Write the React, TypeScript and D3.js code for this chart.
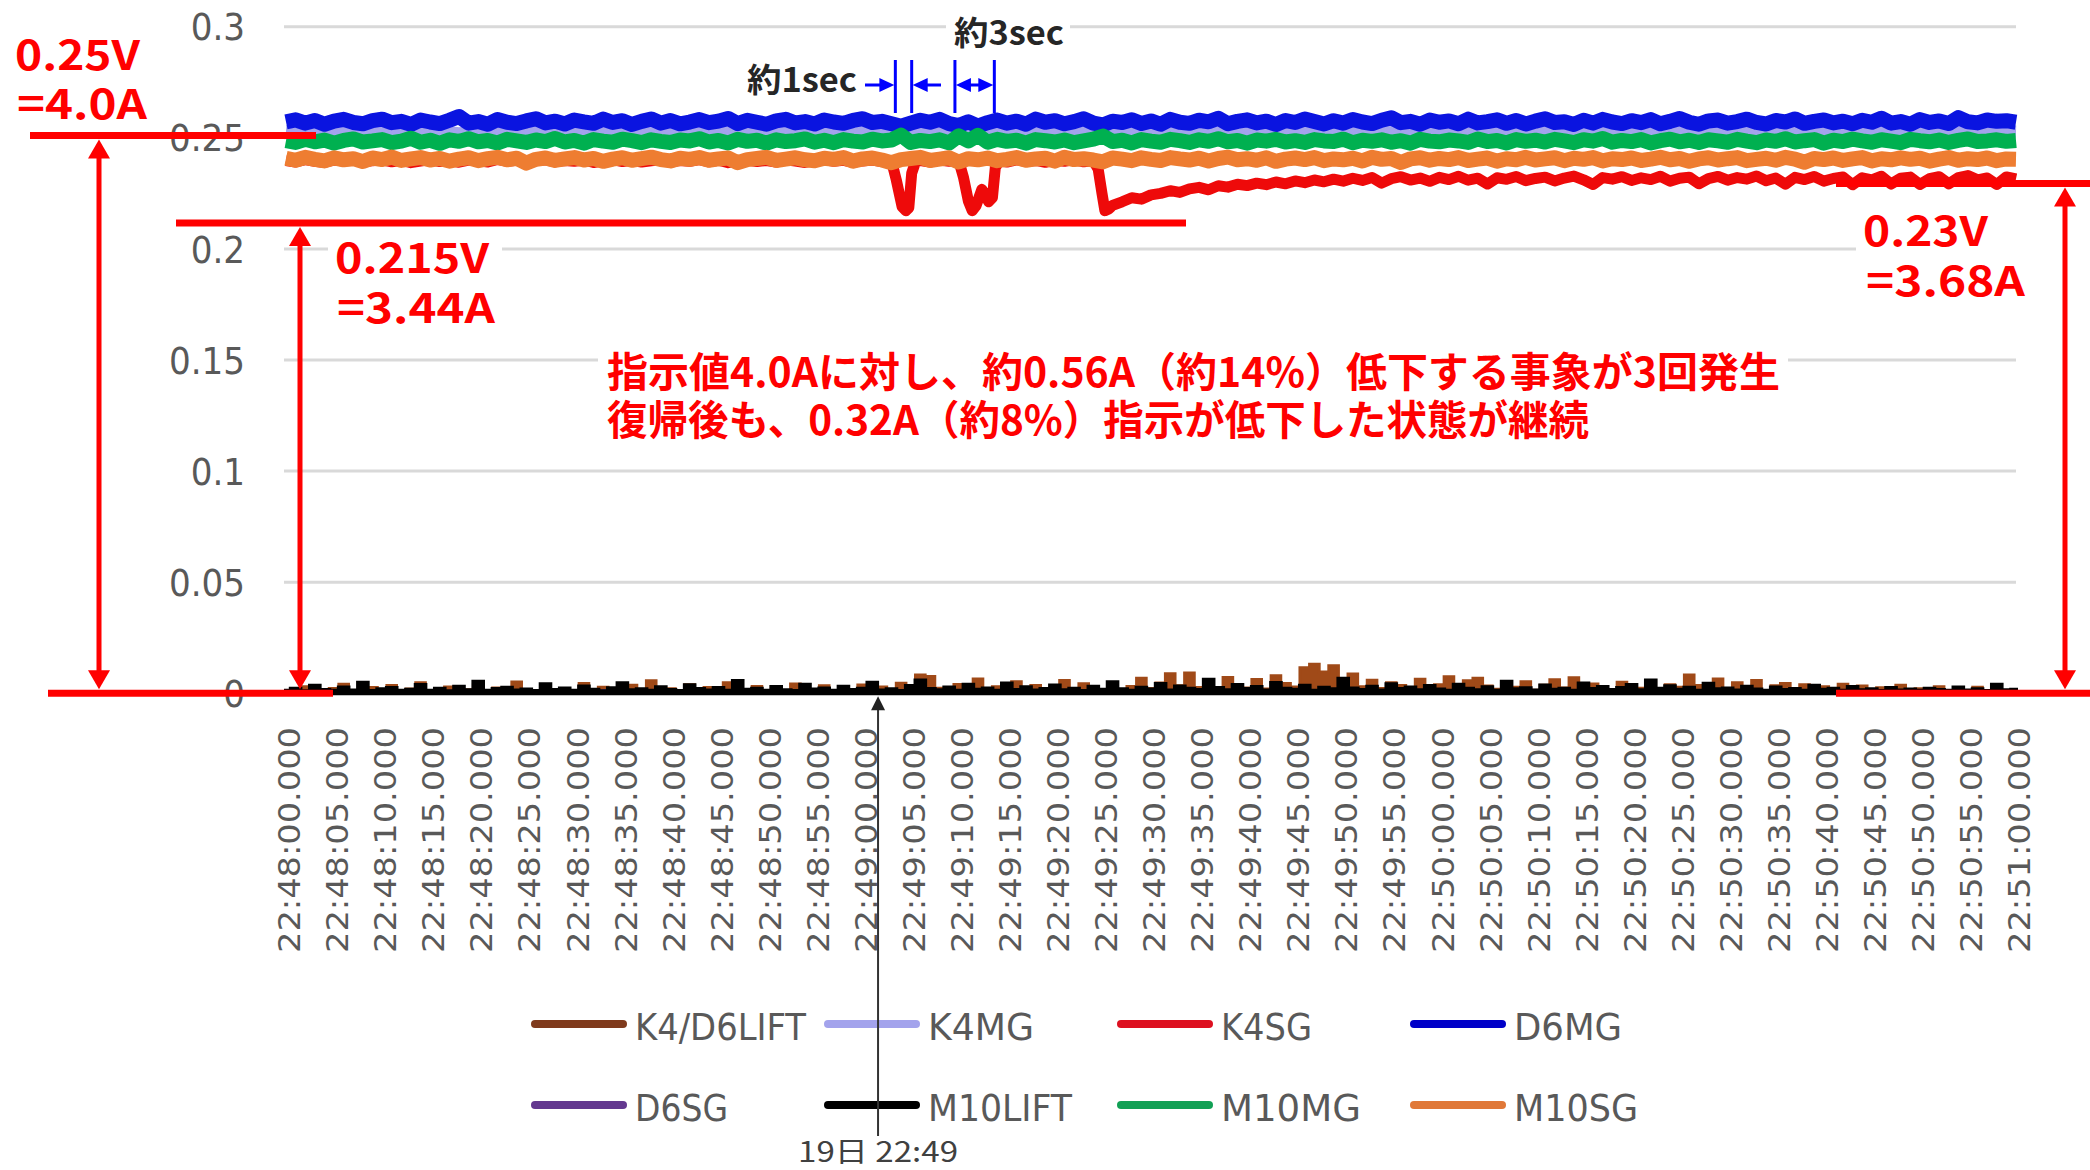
import React, { useEffect } from 'react';
import * as d3 from 'd3';

// ---------- DATA ----------
// time axis: seconds after 22:48:00
const timeTickLabels = [
  '22:48:00.000','22:48:05.000','22:48:10.000','22:48:15.000','22:48:20.000','22:48:25.000',
  '22:48:30.000','22:48:35.000','22:48:40.000','22:48:45.000','22:48:50.000','22:48:55.000',
  '22:49:00.000','22:49:05.000','22:49:10.000','22:49:15.000','22:49:20.000','22:49:25.000',
  '22:49:30.000','22:49:35.000','22:49:40.000','22:49:45.000','22:49:50.000','22:49:55.000',
  '22:50:00.000','22:50:05.000','22:50:10.000','22:50:15.000','22:50:20.000','22:50:25.000',
  '22:50:30.000','22:50:35.000','22:50:40.000','22:50:45.000','22:50:50.000','22:50:55.000',
  '22:51:00.000'
];
const TICK_STEP_SEC = 5;
const yTickValues = [0, 0.05, 0.1, 0.15, 0.2, 0.25, 0.3];
const yTickLabels = ['0', '0.05', '0.1', '0.15', '0.2', '0.25', '0.3'];

const seriesNames = ['K4/D6LIFT', 'K4MG', 'K4SG', 'D6MG', 'D6SG', 'M10LIFT', 'M10MG', 'M10SG'];
const seriesColors = ['#A04A18', '#A3A3EC', '#EE0A0A', '#0A14E0', '#6B3FA0', '#000000', '#00B050', '#EE7D31'];
const legendColors = ['#7F3A1C', '#A3A3EC', '#DD1020', '#0000C8', '#63388F', '#000000', '#12A055', '#E07838'];

// 1-second samples
const d6mg = [
  0.2572,0.2581,0.2566,0.2578,0.2561,0.2575,0.2583,0.2569,0.2563,0.2577,
  0.2584,0.2568,0.2574,0.2560,0.2580,0.2571,0.2564,0.2579,0.2596,0.2566,
  0.2573,0.2561,0.2582,0.2570,0.2564,0.2576,0.2586,0.2567,0.2575,0.2562,
  0.2580,0.2572,0.2565,0.2584,0.2569,0.2577,0.2560,0.2574,0.2585,0.2566,
  0.2578,0.2563,0.2571,0.2582,0.2568,0.2575,0.2587,0.2564,0.2579,0.2570,
  0.2561,0.2576,0.2583,0.2567,0.2573,0.2562,0.2580,0.2571,0.2565,0.2578,
  0.2586,0.2569,0.2574,0.2563,0.2552,0.2566,0.2579,0.2570,0.2583,0.2564,
  0.2555,0.2572,0.2553,0.2568,0.2580,0.2566,0.2575,0.2561,0.2584,0.2570,
  0.2577,0.2563,0.2573,0.2586,0.2566,0.2558,0.2575,0.2569,0.2581,0.2564,
  0.2576,0.2561,0.2583,0.2570,0.2565,0.2579,0.2572,0.2588,0.2563,0.2574,
  0.2581,0.2567,0.2575,0.2560,0.2578,0.2569,0.2585,0.2573,0.2562,0.2577,
  0.2566,0.2582,0.2571,0.2564,0.2579,0.2590,0.2568,0.2574,0.2561,0.2580,
  0.2570,0.2576,0.2563,0.2584,0.2567,0.2573,0.2581,0.2565,0.2578,0.2562,
  0.2575,0.2586,0.2569,0.2572,0.2560,0.2579,0.2566,0.2583,0.2571,0.2564,
  0.2577,0.2568,0.2582,0.2563,0.2574,0.2587,0.2570,0.2561,0.2576,0.2580,
  0.2566,0.2573,0.2584,0.2569,0.2562,0.2578,0.2571,0.2585,0.2565,0.2574,
  0.2580,0.2567,0.2575,0.2563,0.2579,0.2570,0.2588,0.2566,0.2573,0.2561,
  0.2582,0.2569,0.2576,0.2564,0.2591,0.2572,0.2567,0.2580,0.2574,0.2577,
  0.2570
];
const m10mg = [
  0.2487,0.2479,0.2493,0.2482,0.2490,0.2476,0.2488,0.2495,0.2481,0.2486,
  0.2492,0.2478,0.2485,0.2498,0.2480,0.2489,0.2475,0.2491,0.2484,0.2496,
  0.2482,0.2488,0.2477,0.2493,0.2486,0.2479,0.2490,0.2483,0.2497,0.2481,
  0.2488,0.2476,0.2492,0.2485,0.2480,0.2494,0.2487,0.2478,0.2491,0.2484,
  0.2479,0.2490,0.2486,0.2496,0.2481,0.2488,0.2477,0.2493,0.2484,0.2489,
  0.2476,0.2491,0.2483,0.2487,0.2495,0.2480,0.2489,0.2478,0.2492,0.2485,
  0.2481,0.2494,0.2486,0.2490,0.2512,0.2479,0.2488,0.2483,0.2491,0.2477,
  0.2509,0.2486,0.2511,0.2480,0.2493,0.2484,0.2489,0.2476,0.2492,0.2487,
  0.2481,0.2490,0.2478,0.2486,0.2494,0.2508,0.2483,0.2489,0.2477,0.2492,
  0.2485,0.2480,0.2493,0.2487,0.2479,0.2491,0.2484,0.2496,0.2482,0.2488,
  0.2476,0.2490,0.2485,0.2493,0.2481,0.2487,0.2479,0.2492,0.2486,0.2483,
  0.2494,0.2478,0.2489,0.2484,0.2491,0.2480,0.2487,0.2476,0.2493,0.2485,
  0.2482,0.2490,0.2486,0.2479,0.2495,0.2483,0.2488,0.2477,0.2492,0.2484,
  0.2489,0.2481,0.2493,0.2486,0.2478,0.2491,0.2485,0.2497,0.2480,0.2488,
  0.2483,0.2492,0.2477,0.2487,0.2494,0.2482,0.2489,0.2479,0.2491,0.2486,
  0.2480,0.2493,0.2485,0.2478,0.2490,0.2484,0.2496,0.2481,0.2487,0.2492,
  0.2476,0.2489,0.2483,0.2494,0.2486,0.2480,0.2491,0.2485,0.2478,0.2493,
  0.2487,0.2482,0.2490,0.2479,0.2488,0.2495,0.2483,0.2486,0.2491,0.2484,
  0.2488
];
const m10sg = [
  0.2408,0.2399,0.2412,0.2403,0.2396,0.2410,0.2401,0.2406,0.2393,0.2409,
  0.2402,0.2413,0.2398,0.2405,0.2411,0.2400,0.2407,0.2395,0.2404,0.2410,
  0.2397,0.2406,0.2412,0.2401,0.2408,0.2386,0.2403,0.2409,0.2398,0.2405,
  0.2411,0.2400,0.2407,0.2394,0.2404,0.2410,0.2399,0.2406,0.2413,0.2402,
  0.2396,0.2408,0.2403,0.2411,0.2399,0.2405,0.2409,0.2388,0.2402,0.2407,
  0.2412,0.2398,0.2404,0.2410,0.2401,0.2397,0.2408,0.2403,0.2411,0.2395,
  0.2405,0.2409,0.2400,0.2388,0.2402,0.2407,0.2412,0.2398,0.2404,0.2410,
  0.2391,0.2406,0.2401,0.2409,0.2397,0.2403,0.2411,0.2399,0.2405,0.2408,
  0.2395,0.2412,0.2402,0.2406,0.2400,0.2392,0.2409,0.2404,0.2397,0.2410,
  0.2403,0.2398,0.2411,0.2405,0.2400,0.2408,0.2396,0.2407,0.2413,0.2401,
  0.2406,0.2399,0.2410,0.2394,0.2404,0.2409,0.2402,0.2411,0.2397,0.2405,
  0.2401,0.2408,0.2396,0.2412,0.2403,0.2407,0.2389,0.2405,0.2410,0.2399,
  0.2407,0.2402,0.2411,0.2398,0.2404,0.2409,0.2395,0.2406,0.2401,0.2412,
  0.2400,0.2405,0.2410,0.2397,0.2408,0.2403,0.2411,0.2396,0.2406,0.2402,
  0.2409,0.2398,0.2404,0.2412,0.2401,0.2407,0.2394,0.2405,0.2410,0.2400,
  0.2406,0.2411,0.2397,0.2403,0.2408,0.2399,0.2412,0.2404,0.2390,0.2407,
  0.2402,0.2409,0.2398,0.2405,0.2411,0.2396,0.2406,0.2401,0.2410,0.2403,
  0.2408,0.2395,0.2404,0.2411,0.2399,0.2406,0.2402,0.2409,0.2397,0.2405,
  0.2404
];
const m10lift = [
  0.0012,0.0021,0.0009,0.0034,0.0015,0.0011,0.0026,0.0013,0.0048,0.0010,
  0.0018,0.0024,0.0011,0.0016,0.0037,0.0012,0.0020,0.0009,0.0029,0.0014,
  0.0052,0.0011,0.0019,0.0025,0.0013,0.0017,0.0010,0.0041,0.0015,0.0022,
  0.0012,0.0031,0.0016,0.0009,0.0023,0.0045,0.0014,0.0018,0.0011,0.0027,
  0.0015,0.0010,0.0036,0.0019,0.0013,0.0024,0.0011,0.0055,0.0016,0.0020,
  0.0012,0.0028,0.0014,0.0010,0.0039,0.0017,0.0022,0.0011,0.0030,0.0015,
  0.0021,0.0047,0.0013,0.0018,0.0010,0.0033,0.0058,0.0019,0.0014,0.0026,
  0.0011,0.0038,0.0016,0.0022,0.0012,0.0044,0.0015,0.0027,0.0013,0.0019,
  0.0035,0.0014,0.0021,0.0010,0.0029,0.0016,0.0050,0.0018,0.0012,0.0025,
  0.0017,0.0042,0.0013,0.0031,0.0020,0.0015,0.0061,0.0024,0.0014,0.0037,
  0.0019,0.0028,0.0013,0.0046,0.0021,0.0016,0.0034,0.0012,0.0025,0.0018,
  0.0066,0.0022,0.0015,0.0030,0.0013,0.0041,0.0019,0.0026,0.0014,0.0033,
  0.0017,0.0011,0.0039,0.0020,0.0014,0.0027,0.0012,0.0052,0.0018,0.0023,
  0.0013,0.0035,0.0016,0.0021,0.0011,0.0044,0.0019,0.0028,0.0015,0.0024,
  0.0037,0.0014,0.0058,0.0020,0.0032,0.0016,0.0025,0.0012,0.0043,0.0018,
  0.0022,0.0013,0.0030,0.0017,0.0011,0.0026,0.0015,0.0019,0.0012,0.0034,
  0.0016,0.0021,0.0011,0.0028,0.0014,0.0018,0.0010,0.0024,0.0013,0.0017,
  0.0012,0.0020,0.0015,0.0011,0.0026,0.0013,0.0018,0.0010,0.0038,0.0014,
  0.0016
];
const k4d6lift = [
  0.0008,0.0014,0.0030,0.0010,0.0007,0.0022,0.0041,0.0012,0.0009,0.0026,
  0.0011,0.0035,0.0008,0.0019,0.0047,0.0013,0.0010,0.0028,0.0009,0.0016,
  0.0038,0.0010,0.0024,0.0012,0.0051,0.0015,0.0008,0.0033,0.0011,0.0020,
  0.0009,0.0044,0.0013,0.0027,0.0010,0.0018,0.0036,0.0008,0.0056,0.0014,
  0.0021,0.0010,0.0039,0.0012,0.0026,0.0009,0.0048,0.0015,0.0011,0.0031,
  0.0013,0.0025,0.0009,0.0042,0.0016,0.0010,0.0034,0.0012,0.0020,0.0008,
  0.0037,0.0014,0.0028,0.0011,0.0045,0.0019,0.0082,0.0076,0.0023,0.0013,
  0.0040,0.0012,0.0064,0.0018,0.0030,0.0011,0.0052,0.0016,0.0035,0.0010,
  0.0027,0.0058,0.0014,0.0043,0.0021,0.0012,0.0049,0.0017,0.0031,0.0068,
  0.0022,0.0046,0.0088,0.0034,0.0091,0.0026,0.0055,0.0015,0.0071,0.0038,
  0.0024,0.0062,0.0019,0.0079,0.0044,0.0028,0.0115,0.0131,0.0096,0.0124,
  0.0041,0.0087,0.0030,0.0059,0.0022,0.0048,0.0035,0.0017,0.0063,0.0026,
  0.0039,0.0074,0.0021,0.0056,0.0068,0.0033,0.0018,0.0045,0.0027,0.0052,
  0.0014,0.0036,0.0061,0.0024,0.0070,0.0019,0.0042,0.0029,0.0012,0.0050,
  0.0031,0.0023,0.0057,0.0016,0.0038,0.0027,0.0082,0.0035,0.0021,0.0064,
  0.0018,0.0047,0.0026,0.0058,0.0013,0.0034,0.0044,0.0020,0.0039,0.0015,
  0.0029,0.0012,0.0041,0.0022,0.0033,0.0011,0.0025,0.0017,0.0036,0.0010,
  0.0021,0.0014,0.0030,0.0009,0.0019,0.0012,0.0027,0.0010,0.0016,0.0008,
  0.0011
];
// 2-second samples
const k4mg = [
  0.2531,0.2524,0.2529,0.2535,0.2522,0.2528,0.2533,0.2525,0.2530,0.2521,
  0.2527,0.2534,0.2523,0.2529,0.2532,0.2526,0.2520,0.2531,0.2528,0.2524,
  0.2535,0.2527,0.2522,0.2530,0.2533,0.2525,0.2529,0.2521,0.2532,0.2526,
  0.2528,0.2534,0.2523,0.2530,0.2525,0.2531,0.2527,0.2522,0.2533,0.2529,
  0.2524,0.2530,0.2535,0.2526,0.2521,0.2528,0.2532,0.2525,0.2529,0.2534,
  0.2523,0.2527,0.2531,0.2522,0.2530,0.2526,0.2533,0.2528,0.2524,0.2531,
  0.2527,0.2520,0.2532,0.2529,0.2525,0.2534,0.2523,0.2530,0.2528,0.2526,
  0.2533,0.2522,0.2529,0.2531,0.2525,0.2527,0.2535,0.2524,0.2530,0.2528,
  0.2521,0.2532,0.2526,0.2529,0.2534,0.2523,0.2530,0.2527,0.2525,0.2531,
  0.2528
];
const d6sg = [
  0.0009,0.0006,0.0011,0.0007,0.0010,0.0005,0.0008,0.0012,0.0006,0.0009,
  0.0007,0.0011,0.0005,0.0008,0.0010,0.0006,0.0009,0.0013,0.0007,0.0008,
  0.0010,0.0005,0.0009,0.0007,0.0011,0.0006,0.0008,0.0010,0.0012,0.0007,
  0.0009,0.0006,0.0011,0.0008,0.0005,0.0010,0.0007,0.0009,0.0012,0.0006,
  0.0008,0.0011,0.0007,0.0010,0.0005,0.0009,0.0013,0.0006,0.0008,0.0010,
  0.0007,0.0011,0.0006,0.0009,0.0008,0.0012,0.0005,0.0010,0.0007,0.0009,
  0.0011,0.0006,0.0008,0.0010,0.0007,0.0012,0.0009,0.0005,0.0011,0.0008,
  0.0006,0.0010,0.0009,0.0007,0.0012,0.0008,0.0005,0.0010,0.0007,0.0009,
  0.0011,0.0006,0.0008,0.0010,0.0007,0.0009,0.0012,0.0006,0.0008,0.0010,
  0.0007
];
// K4SG: irregular sample times (denser during the three drops)
const k4sgTimes = [
  0,1,2,3,4,5,6,7,8,9,10,11,12,13,14,15,16,17,18,19,20,21,22,23,24,25,26,27,28,29,
  30,31,32,33,34,35,36,37,38,39,40,41,42,43,44,45,46,47,48,49,50,51,52,53,54,55,56,57,58,59,
  60,61,62,63,63.5,64.1,64.5,64.8,65.1,65.5,66,67,68,69,70,
  70.5,71,71.4,71.8,72.4,72.8,73.1,73.5,73.8,74.2,75,76,77,78,79,80,81,82,83,84,
  84.5,84.9,85.2,85.6,86,87,88,89,90,91,92,93,94,95,96,97,98,99,100,
  101,102,103,104,105,106,107,108,109,110,111,112,113,114,115,116,117,118,119,120,
  121,122,123,124,125,126,127,128,129,130,131,132,133,134,135,136,137,138,139,140,
  141,142,143,144,145,146,147,148,149,150,151,152,153,154,155,156,157,158,159,160,
  161,162,163,164,165,166,167,168,169,170,171,172,173,174,175,176,177,178,179,180
];
const k4sgValues = [
  0.2398,0.2391,0.2402,0.2394,0.2389,0.2400,0.2396,0.2403,0.2390,0.2397,
  0.2401,0.2392,0.2399,0.2388,0.2395,0.2402,0.2393,0.2398,0.2390,0.2400,
  0.2396,0.2391,0.2403,0.2394,0.2399,0.2387,0.2397,0.2401,0.2392,0.2398,
  0.2394,0.2400,0.2389,0.2396,0.2402,0.2393,0.2399,0.2391,0.2397,0.2401,
  0.2390,0.2398,0.2394,0.2402,0.2392,0.2399,0.2388,0.2396,0.2400,0.2393,
  0.2398,0.2391,0.2401,0.2395,0.2389,0.2397,0.2402,0.2394,0.2399,0.2390,
  0.2396,0.2400,0.2393,0.2396,0.2310,0.2190,0.2172,0.2185,0.2340,0.2392,0.2398,0.2391,0.2400,0.2394,0.2397,
  0.2320,0.2215,0.2172,0.2195,0.2268,0.2240,0.2212,0.2230,0.2365,0.2396,0.2391,0.2401,0.2393,0.2398,0.2390,0.2399,0.2394,0.2402,0.2392,0.2397,
  0.2360,0.2250,0.2172,0.2180,0.2196,0.2212,0.2230,0.2224,0.2243,0.2250,0.2262,0.2254,0.2270,0.2277,0.2266,0.2284,0.2278,0.2291,0.2285,
  0.2296,0.2289,0.2301,0.2293,0.2306,0.2298,0.2310,0.2302,0.2314,0.2305,0.2318,0.2308,0.2321,0.2296,0.2316,0.2325,0.2310,0.2319,0.2304,0.2322,
  0.2312,0.2327,0.2309,0.2318,0.2292,0.2320,0.2313,0.2326,0.2307,0.2317,0.2323,0.2306,0.2319,0.2328,0.2311,0.2290,0.2321,0.2314,0.2325,0.2308,
  0.2320,0.2312,0.2327,0.2305,0.2318,0.2323,0.2293,0.2316,0.2326,0.2309,0.2321,0.2314,0.2328,0.2307,0.2319,0.2291,0.2322,0.2312,0.2326,0.2305,
  0.2317,0.2324,0.2289,0.2320,0.2311,0.2327,0.2292,0.2318,0.2323,0.2290,0.2316,0.2325,0.2293,0.2321,0.2330,0.2311,0.2319,0.2290,0.2324,0.2315
];

// annotation values (volts / seconds)
const refLevelTop = 0.251;     // 0.25V = 4.0A
const refLevelDrop = 0.2117;   // 0.215V = 3.44A
const refLevelAfter = 0.2294;  // 0.23V = 3.68A
const oneSecMarks = [63.4, 65.1];
const threeSecMarks = [69.6, 73.7];
const markerTime = 61.6;       // 19日 22:49

// ---------- LAYOUT ----------
const W = 2090, H = 1170;
const xScale = d3.scaleLinear().domain([0, 180]).range([286, 2016]);
const yScale = d3.scaleLinear().domain([0, 0.3]).range([693.3, 26.7]);

type Pt = [number, number];
const withStep = (vals: number[], step: number): Pt[] => vals.map((v, i) => [i * step, v]);
const lineGen = d3.line<Pt>().x(d => xScale(d[0])).y(d => yScale(d[1]));
const stepArea = d3.area<Pt>().x(d => xScale(d[0])).y0(yScale(0)).y1(d => yScale(d[1])).curve(d3.curveStep);

const seriesData: { pts: Pt[]; width: number; floor: boolean }[] = [
  { pts: withStep(k4d6lift, 1), width: 3, floor: true },
  { pts: withStep(k4mg, 2), width: 12, floor: false },
  { pts: k4sgTimes.map((t, i) => [t, k4sgValues[i]] as Pt), width: 11, floor: false },
  { pts: withStep(d6mg, 1), width: 15, floor: false },
  { pts: withStep(d6sg, 2), width: 3, floor: true },
  { pts: withStep(m10lift, 1), width: 4, floor: true },
  { pts: withStep(m10mg, 1), width: 15, floor: false },
  { pts: withStep(m10sg, 1), width: 15, floor: false },
];

const legendLabelWidths = [171, 106, 91, 108, 93, 144, 140, 124];

const RED = '#FF0000';
const BLUE = '#0000FF';
const JP = "'Noto Sans CJK JP', 'Noto Sans', sans-serif";
const COND = "'DejaVu Sans Condensed', 'Liberation Sans Narrow', 'DejaVu Sans', sans-serif";

function tri(tipX: number, tipY: number, dir: 'up' | 'down' | 'left' | 'right', len: number, half: number) {
  if (dir === 'up') return `M${tipX},${tipY}L${tipX - half},${tipY + len}L${tipX + half},${tipY + len}Z`;
  if (dir === 'down') return `M${tipX},${tipY}L${tipX - half},${tipY - len}L${tipX + half},${tipY - len}Z`;
  if (dir === 'left') return `M${tipX},${tipY}L${tipX + len},${tipY - half}L${tipX + len},${tipY + half}Z`;
  return `M${tipX},${tipY}L${tipX - len},${tipY - half}L${tipX - len},${tipY + half}Z`;
}

function RedDoubleArrow({ x, yTop, yBottom }: { x: number; yTop: number; yBottom: number }) {
  return (
    <g>
      <line x1={x} x2={x} y1={yTop + 10} y2={yBottom - 10} stroke={RED} strokeWidth={5} />
      <path d={tri(x, yTop, 'up', 19, 11)} fill={RED} />
      <path d={tri(x, yBottom, 'down', 19, 11)} fill={RED} />
    </g>
  );
}

export default function App() {
  useEffect(() => {
    document.body.style.margin = '0';
    document.body.style.background = '#ffffff';
  }, []);

  const y0 = yScale(0);
  const yTopLvl = yScale(refLevelTop);
  const yDropLvl = yScale(refLevelDrop);
  const yAfterLvl = yScale(refLevelAfter);
  const blueTop = 60, blueBottom = 113, blueArrowY = 85;
  const xm = xScale(markerTime);

  return (
    <div style={{ position: 'absolute', left: 0, top: 0, width: W, height: H, background: '#fff' }}>
      <svg width={W} height={H} style={{ display: 'block' }}>
        <rect x={0} y={0} width={W} height={H} fill="#ffffff" />
        {/* gridlines */}
        {yTickValues.map((v, i) => (
          <line key={'g' + i} x1={284} x2={2016} y1={yScale(v)} y2={yScale(v)}
            stroke={v === 0 ? '#bfbfbf' : '#d9d9d9'} strokeWidth={3} />
        ))}
        {/* y tick labels */}
        {yTickValues.map((v, i) => (
          <text key={'yl' + i} x={245} y={yScale(v)} dy="0.36em" textAnchor="end"
            fontFamily={COND} fontSize={38} fill="#595959">{yTickLabels[i]}</text>
        ))}
        {/* x tick labels */}
        {timeTickLabels.map((lab, i) => {
          const x = xScale(i * TICK_STEP_SEC) + 3;
          return (
            <text key={'xl' + i} transform={`translate(${x},727) rotate(-90)`} textAnchor="end"
              dy="0.36em" fontFamily="'DejaVu Sans', sans-serif" fontSize={31} fill="#595959"
              textLength={226} lengthAdjust="spacingAndGlyphs">{lab}</text>
          );
        })}
        {/* series */}
        {seriesData.map((s, i) => (
          s.floor ? (
            <path key={'s' + i} d={stepArea(s.pts) || ''} fill={seriesColors[i]}
              stroke={seriesColors[i]} strokeWidth={s.width} strokeLinejoin="miter" />
          ) : (
            <path key={'s' + i} d={lineGen(s.pts) || ''} fill="none"
              stroke={seriesColors[i]} strokeWidth={s.width} strokeLinejoin="round" strokeLinecap="butt" />
          )
        ))}

        {/* legend */}
        {seriesNames.map((name, i) => {
          const col = i % 4, row = Math.floor(i / 4);
          const lx = 531 + col * 293;
          const ly = 1024 + row * 81;
          return (
            <g key={'lg' + i}>
              <line x1={lx + 4} x2={lx + 92} y1={ly} y2={ly} stroke={legendColors[i]} strokeWidth={8} strokeLinecap="round" />
              <text x={lx + 104} y={ly + 16} fontFamily={COND} fontSize={38} fill="#595959"
                textLength={legendLabelWidths[i]} lengthAdjust="spacingAndGlyphs">{name}</text>
            </g>
          );
        })}

        {/* 19日 22:49 marker */}
        <line x1={xm} x2={xm} y1={y0 + 10} y2={1136} stroke="#333" strokeWidth={2} />
        <path d={tri(xm, y0 + 3, 'up', 14, 7)} fill="#222" />
        <text x={xm} y={1162} textAnchor="middle" fontFamily={JP} fontSize={28} fill="#404040"
          textLength={160} lengthAdjust="spacingAndGlyphs">19日 22:49</text>

        {/* white boxes behind annotation texts */}
        <rect x={946} y={12} width={124} height={40} fill="#fff" />
        <rect x={328} y={236} width={174} height={96} fill="#fff" />
        <rect x={1856} y={210} width={176} height={96} fill="#fff" />
        <rect x={598} y={344} width={1190} height={100} fill="#fff" />

        {/* red level lines & arrows */}
        <line x1={30} x2={316} y1={yTopLvl} y2={yTopLvl} stroke={RED} strokeWidth={7} />
        <line x1={176} x2={1186} y1={yDropLvl} y2={yDropLvl} stroke={RED} strokeWidth={7} />
        <line x1={1836} x2={2090} y1={yAfterLvl} y2={yAfterLvl} stroke={RED} strokeWidth={7} />
        <line x1={48} x2={333} y1={y0} y2={y0} stroke={RED} strokeWidth={7} />
        <line x1={1836} x2={2090} y1={y0} y2={y0} stroke={RED} strokeWidth={7} />
        <RedDoubleArrow x={99} yTop={yTopLvl + 4} yBottom={y0 - 4} />
        <RedDoubleArrow x={300} yTop={yDropLvl + 4} yBottom={y0 - 4} />
        <RedDoubleArrow x={2065} yTop={yAfterLvl + 4} yBottom={y0 - 4} />

        {/* red texts */}
        <g fontFamily={JP} fontWeight={700} fill={RED} fontSize={41}>
          <text x={15} y={70} textLength={125} lengthAdjust="spacingAndGlyphs">0.25V</text>
          <text x={17} y={119} textLength={130} lengthAdjust="spacingAndGlyphs">=4.0A</text>
          <text x={335} y={273} textLength={154} lengthAdjust="spacingAndGlyphs">0.215V</text>
          <text x={337} y={323} textLength={158} lengthAdjust="spacingAndGlyphs">=3.44A</text>
          <text x={1863} y={246} textLength={125} lengthAdjust="spacingAndGlyphs">0.23V</text>
          <text x={1866} y={296} textLength={159} lengthAdjust="spacingAndGlyphs">=3.68A</text>
          <text x={607} y={387} textLength={1173} lengthAdjust="spacingAndGlyphs">指示値4.0Aに対し、約0.56A（約14%）低下する事象が3回発生</text>
          <text x={607} y={435} textLength={982} lengthAdjust="spacingAndGlyphs">復帰後も、0.32A（約8%）指示が低下した状態が継続</text>
        </g>

        {/* blue duration markers */}
        {[...oneSecMarks, ...threeSecMarks].map((t, i) => (
          <line key={'bm' + i} x1={xScale(t)} x2={xScale(t)} y1={blueTop} y2={blueBottom} stroke={BLUE} strokeWidth={3} />
        ))}
        <line x1={865} x2={xScale(oneSecMarks[0]) - 10} y1={blueArrowY} y2={blueArrowY} stroke={BLUE} strokeWidth={3} />
        <path d={tri(xScale(oneSecMarks[0]) - 1, blueArrowY, 'right', 15, 7)} fill={BLUE} />
        <line x1={xScale(oneSecMarks[1]) + 10} x2={941} y1={blueArrowY} y2={blueArrowY} stroke={BLUE} strokeWidth={3} />
        <path d={tri(xScale(oneSecMarks[1]) + 1, blueArrowY, 'left', 15, 7)} fill={BLUE} />
        <line x1={xScale(threeSecMarks[0]) + 10} x2={xScale(threeSecMarks[1]) - 10} y1={blueArrowY} y2={blueArrowY} stroke={BLUE} strokeWidth={3} />
        <path d={tri(xScale(threeSecMarks[0]) + 1, blueArrowY, 'left', 15, 7)} fill={BLUE} />
        <path d={tri(xScale(threeSecMarks[1]) - 1, blueArrowY, 'right', 15, 7)} fill={BLUE} />

        {/* dark labels */}
        <g fontFamily={JP} fontWeight={700} fill="#262626" fontSize={33}>
          <text x={747} y={92} textLength={110} lengthAdjust="spacingAndGlyphs">約1sec</text>
          <text x={954} y={45} textLength={110} lengthAdjust="spacingAndGlyphs">約3sec</text>
        </g>
      </svg>
    </div>
  );
}
